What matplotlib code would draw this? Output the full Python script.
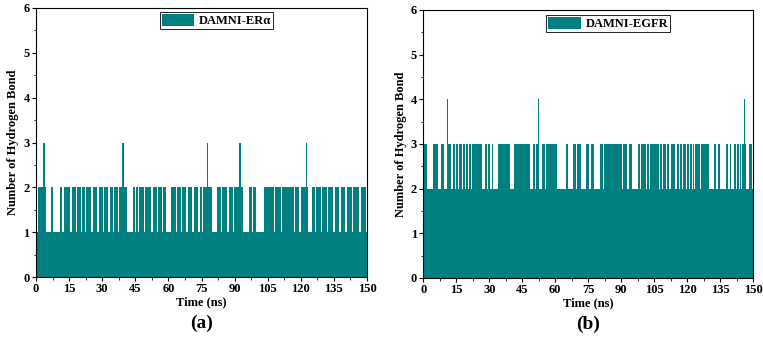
import matplotlib
matplotlib.use("Agg")
import matplotlib.pyplot as plt
from matplotlib.ticker import MultipleLocator
from matplotlib.patches import Patch

# ---- data (time in ns, counts) ----
era_label = "DAMNI-ERα"
era_base = 1
era_high_level = 2
era_high_intervals = [
    (0.9, 4.7), (6.6, 7.7), (10.9, 11.8), (12.7, 13.4), (13.7, 15.4), (16.2, 18.0),
    (18.4, 20.2), (20.7, 22.1), (22.8, 25.1), (25.7, 27.8), (28.7, 30.4), (31.0, 32.8),
    (33.4, 34.7), (35.5, 37.2), (37.6, 41.1), (44.1, 44.7), (45.3, 46.4), (46.8, 48.9),
    (49.5, 52.0), (52.9, 54.7), (55.4, 57.3), (57.7, 58.9), (61.0, 63.3), (63.9, 65.6),
    (66.3, 68.1), (68.7, 70.8), (71.6, 73.4), (74.2, 75.4), (75.8, 79.6), (82.2, 83.7),
    (84.1, 86.7), (87.3, 89.1), (89.9, 94.0), (96.7, 97.7), (98.5, 99.7), (103.3, 105.0),
    (105.3, 107.9), (108.5, 110.9), (111.5, 114.0), (114.4, 116.7), (117.3, 119.1),
    (120.0, 123.4), (124.9, 126.6), (126.9, 129.0), (129.7, 131.7), (132.3, 134.7),
    (135.3, 137.5), (138.1, 140.2), (140.8, 143.0), (143.5, 146.5), (147.1, 149.4),
]
era_spike_level = 3
era_spike_times = [3.6, 39.4, 77.6, 92.4, 122.7]

egfr_label = "DAMNI-EGFR"
egfr_base = 2
egfr_high_level = 3
egfr_high_intervals = [
    (0.0, 1.8), (4.5, 6.5), (7.9, 9.4), (10.6, 12.6), (13.4, 14.3), (14.8, 15.6),
    (16.2, 17.4), (18.0, 18.8), (19.4, 20.2), (20.8, 21.6), (22.0, 26.7), (28.0, 29.0),
    (29.5, 30.5), (31.0, 31.8), (34.0, 39.4), (41.4, 48.5), (50.0, 50.9), (51.2, 52.8),
    (53.8, 55.2), (55.6, 56.0), (56.3, 60.8), (64.7, 65.6), (68.0, 69.4), (70.0, 71.8),
    (74.1, 75.5), (76.1, 77.4), (80.5, 81.5), (82.1, 86.5), (86.8, 90.3), (90.7, 92.6),
    (93.3, 94.8), (97.5, 98.6), (99.1, 101.0), (101.7, 102.6), (102.9, 107.1),
    (107.7, 108.5), (109.0, 110.2), (110.9, 111.8), (112.4, 113.3), (113.7, 114.6),
    (115.2, 116.0), (116.6, 117.7), (118.2, 119.2), (119.7, 120.8), (121.3, 122.0),
    (122.5, 123.2), (123.5, 125.6), (126.4, 129.8), (132.0, 133.2), (133.9, 135.0),
    (137.7, 138.6), (139.2, 140.0), (141.0, 142.1), (142.6, 143.6), (144.0, 144.6),
    (145.0, 146.8), (148.1, 149.2),
]
egfr_spike_level = 4
egfr_spike_times = [11.1, 52.3, 146.1]

x_ticks = [0, 15, 30, 45, 60, 75, 90, 105, 120, 135, 150]
y_ticks = [0, 1, 2, 3, 4, 5, 6]
panel_labels = ["(a)", "(b)"]

color = "#008080"
plt.rcParams["font.family"] = ["Liberation Serif", "DejaVu Serif"]
plt.rcParams["font.weight"] = "bold"

fig = plt.figure(figsize=(7.63, 3.39), dpi=100)
ax_a = fig.add_axes([36 / 763, 1 - 277 / 339, 331 / 763, 269 / 339])
ax_b = fig.add_axes([423.3 / 763, 1 - 278 / 339, 330 / 763, 268 / 339])


def draw(ax, base, lvl, intervals, slvl, spikes, label, legx, legy, plabel):
    ax.bar(0, base, width=150, align="edge", color=color, linewidth=0)
    starts = [s for s, e in intervals]
    widths = [e - s for s, e in intervals]
    ax.bar(starts, [lvl] * len(starts), width=widths, align="edge", color=color, linewidth=0)
    ax.bar(spikes, [slvl] * len(spikes), width=0.65, align="center", color=color, linewidth=0)
    ax.set_xlim(0, 150)
    ax.set_ylim(0, 6)
    ax.set_xticks(x_ticks)
    ax.set_yticks(y_ticks)
    ax.xaxis.set_minor_locator(MultipleLocator(7.5))
    ax.yaxis.set_minor_locator(MultipleLocator(0.5))
    ax.tick_params(which="major", direction="out", length=3, width=0.8, labelsize=9, pad=1.5)
    ax.tick_params(which="minor", direction="out", length=1.8, width=0.6)
    for lab in ax.get_xticklabels() + ax.get_yticklabels():
        lab.set_fontweight("bold")
    for sp in ax.spines.values():
        sp.set_linewidth(0.8)
    ax.set_xlabel("Time (ns)", fontsize=9, fontweight="bold", labelpad=1)
    ax.set_ylabel("Number of Hydrogen Bond", fontsize=9, fontweight="bold", labelpad=3)
    leg = ax.legend(handles=[Patch(facecolor=color, edgecolor="none", label=label)],
                    loc="upper center", bbox_to_anchor=(legx, legy), fontsize=9,
                    frameon=True, fancybox=False, edgecolor="black", framealpha=1,
                    handlelength=2.6, handleheight=1.1, borderpad=0.15,
                    handletextpad=0.4, borderaxespad=0)
    leg.get_frame().set_linewidth(0.6)
    for t in leg.get_texts():
        t.set_fontweight("bold")
    ax.text(0.5, -0.14, plabel, transform=ax.transAxes, ha="center", va="top",
            fontsize=14, fontweight="bold")


draw(ax_a, era_base, era_high_level, era_high_intervals, era_spike_level,
     era_spike_times, era_label, 0.545, 0.985, panel_labels[0])
draw(ax_b, egfr_base, egfr_high_level, egfr_high_intervals, egfr_spike_level,
     egfr_spike_times, egfr_label, 0.56, 0.981, panel_labels[1])

fig.savefig("out.png", dpi=100)
